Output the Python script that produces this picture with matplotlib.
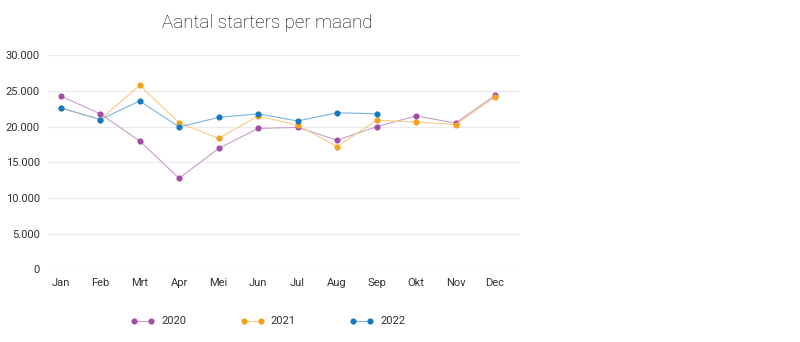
import matplotlib.pyplot as plt
from matplotlib.ticker import FuncFormatter
import matplotlib.colors as mcolors
import numpy as np

# maandelijkse aantallen starters
maanden = ['Jan', 'Feb', 'Mrt', 'Apr', 'Mei', 'Jun', 'Jul', 'Aug', 'Sep', 'Okt', 'Nov', 'Dec']
starters_2020 = [24300, 21800, 18000, 12750, 16950, 19750, 19900, 18100, 20000, 21500, 20500, 24400]
starters_2021 = [22600, 21000, 25800, 20550, 18350, 21500, 20200, 17200, 20900, 20650, 20300, 24150]
starters_2022 = [22650, 21000, 23600, 19950, 21300, 21800, 20800, 21950, 21800, None, None, None]

jaren = ['2020', '2021', '2022']
kleuren = ['#a14ca3', '#f7a11a', '#1479c4']


def lichter(kleur, f=0.45):
    # mengt de kleur met wit voor de lijnen
    r, g, b = mcolors.to_rgb(kleur)
    return (r + (1 - r) * f, g + (1 - g) * f, b + (1 - b) * f)


plt.rcParams['font.family'] = ['Roboto', 'DejaVu Sans']

fig = plt.figure(figsize=(8, 3.42), dpi=100)
ax = fig.add_axes([0.06, 0.2126, 0.59, 0.6256])

x = np.arange(len(maanden))
handles = []
for jaar, waarden, kleur in zip(jaren, [starters_2020, starters_2021, starters_2022], kleuren):
    y = np.array([np.nan if v is None else v for v in waarden], dtype=float)
    h, = ax.plot(x, y, color=lichter(kleur), linewidth=0.8, marker='o', markersize=3.4,
                 markerfacecolor=kleur, markeredgecolor=kleur, label=jaar, zorder=3)
    handles.append(h)

ax.set_ylim(0, 30000)
ax.set_xlim(-0.32, 11.63)
ax.set_yticks(range(0, 30001, 5000))
ax.yaxis.set_major_formatter(FuncFormatter(lambda v, p: f'{int(v):,}'.replace(',', '.')))
ax.set_xticks(x)
ax.set_xticklabels(maanden)
ax.grid(axis='y', color='#ebebeb', linewidth=0.8)
ax.set_axisbelow(True)
for s in ax.spines.values():
    s.set_visible(False)
ax.tick_params(length=0, labelsize=8, colors='#333333', pad=6)

fig.text(0.334, 0.932, 'Aantal starters per maand', ha='center', va='center',
         fontsize=13.5, fontweight='light', color='#000000')

fig.legend(handles=handles, loc='center', bbox_to_anchor=(0.335, 0.06), ncol=3,
           frameon=False, fontsize=8, handlelength=2.1, columnspacing=4.9,
           handletextpad=0.6, labelcolor='#333333', numpoints=2)

fig.savefig('out.png', dpi=100)
